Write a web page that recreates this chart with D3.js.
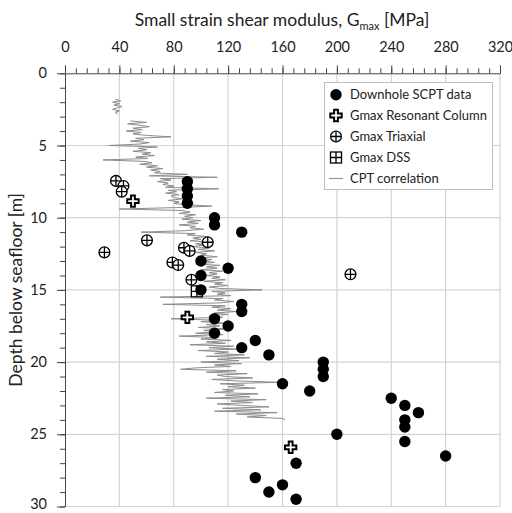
<!DOCTYPE html>
<html>
<head>
<meta charset="utf-8">
<script src="https://cdn.jsdelivr.net/npm/d3@7"></script>
<style>
  html, body { margin: 0; padding: 0; background: #fff; }
  svg text { font-family: Lato, "Open Sans", sans-serif; fill: #222; }
</style>
</head>
<body>
<svg id="chart" width="512" height="513"></svg>
<script>
// Axis ticks
const xTicks = [0, 40, 80, 120, 160, 200, 240, 280, 320];
const yTicks = [0, 5, 10, 15, 20, 25, 30];

// Downhole seismic CPT measurements: depth [m], Gmax [MPa]
const scptDepth = [7.5, 8, 8.5, 9, 10, 10.5, 11, 13, 13.5, 14, 15, 16, 16.5, 17, 17.5, 18, 18.5, 19, 19.5,
  20, 20.5, 21, 21.5, 22, 22.5, 23, 23.5, 24, 24.5, 25, 25.5, 26.5, 27, 28, 28.5, 29, 29.5];
const scptGmax = [90, 90, 90, 90, 110, 110, 130, 100, 120, 100, 100, 130, 130, 110, 120, 110, 140, 130, 150,
  190, 190, 190, 160, 180, 240, 250, 260, 250, 250, 200, 250, 280, 170, 140, 160, 150, 170];

// Resonant column tests
const rcDepth = [8.85, 16.9, 25.9];
const rcGmax = [50, 90, 166];

// Triaxial tests
const txDepth = [7.45, 7.8, 8.2, 11.57, 11.7, 12.08, 12.3, 12.4, 13.1, 13.28, 14.3, 13.92];
const txGmax = [37.5, 43, 41.7, 60.3, 105, 87.5, 91.7, 29, 79, 83.3, 93, 210];

// Direct simple shear test
const dssDepth = [15.1];
const dssGmax = [97];

// CPT based correlation (null marks a gap in the profile)
const cptDepth = [
  1.8, 1.9, 2.0, 2.1, 2.2, 2.3, 2.4, 2.5, 2.6, 2.7, 2.8, 3.0,
  3.3, 3.4, 3.5, 3.6, 3.7, 3.8, 3.9,
  4.0, 4.1, 4.2, 4.3, 4.4, 4.5, 4.6, 4.7, 4.8, 4.9,
  5.0, 5.1, 5.2, 5.3, 5.4, 5.5, 5.6, 5.7, 5.8, 5.9,
  6.0, 6.1, 6.2, 6.3, 6.4, 6.5, 6.6, 6.7, 6.8, 6.9,
  7.0, 7.1, 7.2, 7.3, 7.4, 7.5, 7.6, 7.7, 7.8, 7.9,
  8.0, 8.1, 8.2, 8.3, 8.4, 8.5, 8.6, 8.7, 8.8, 8.9,
  9.0, 9.1, 9.2, 9.3, 9.4, 9.5, 9.6, 9.7, 9.8, 9.9,
  10.0, 10.1, 10.2, 10.3, 10.4, 10.5, 10.6, 10.7, 10.8, 10.9,
  11.0, 11.1, 11.2, 11.3, 11.4, 11.5, 11.6, 11.7, 11.8, 11.9,
  12.0, 12.1, 12.2, 12.3, 12.4, 12.5, 12.6, 12.7, 12.8, 12.9,
  13.0, 13.1, 13.2, 13.3, 13.4, 13.5, 13.6, 13.7, 13.8, 13.9,
  14.0, 14.1, 14.2, 14.3, 14.4, 14.5, 14.6, 14.7, 14.8, 14.9,
  15.0, 15.1, 15.2, 15.3, 15.4, 15.5, 15.6, 15.7, 15.8, 15.9,
  16.0, 16.1, 16.2, 16.3, 16.4, 16.5, 16.6, 16.7, 16.8, 16.9,
  17.0, 17.1, 17.2, 17.3, 17.4, 17.5, 17.6, 17.7, 17.8, 17.9,
  18.0, 18.1, 18.2, 18.3, 18.4, 18.5, 18.6, 18.7, 18.8, 18.9,
  19.0, 19.1, 19.2, 19.3, 19.4, 19.5, 19.6, 19.7, 19.8, 19.9,
  20.0, 20.1, 20.2, 20.3, 20.4, 20.5, 20.6, 20.7, 20.8, 20.9,
  21.0, 21.1, 21.2, 21.3, 21.4, 21.5, 21.6, 21.7, 21.8, 21.9,
  22.0, 22.1, 22.2, 22.3, 22.4, 22.5, 22.6, 22.7, 22.8, 22.9,
  23.0, 23.1, 23.2, 23.3, 23.4, 23.5, 23.6, 23.7, 23.8, 23.9,
  24.0];
const cptGmax = [
  37, 41, 35, 40, 36, 42, 38, 35, 40, 37, 39, null,
  48, 60, 46, 55, 62, 50, 57,
  45, 56, 50, 60, 78, 52, 58, 48, 62, 55,
  32, 68, 54, 60, 50, 63, 57, 66, 52, 61,
  28, 58, 64, 55, 68, 60, 72, 63, 70, 66,
  90, 62, 112, 70, 78, 68, 76, 72, 80, 74,
  113, 76, 82, 74, 84, 78, 80, 86, 76, 84,
  80, 88, 108, 82, 40, 86, 92, 84, 96, 88,
  94, 86, 100, 90, 98, 84, 96, 92, 102, 88,
  56, 96, 90, 104, 94, 100, 92, 108, 96, 102,
  94, 106, 98, 110, 96, 104, 100, 112, 98, 108,
  102, 110, 96, 114, 104, 112, 100, 116, 106, 112,
  104, 114, 108, 118, 102, 116, 110, 120, 106, 114,
  145, 108, 118, 112, 122, 70, 116, 110, 124, 114,
  72, 118, 108, 122, 112, 126, 110, 120, 106, 116,
  78, 112, 100, 118, 104, 114, 98, 120, 102, 110,
  96, 116, 84, 112, 100, 122, 104, 118, 92, 124,
  106, 126, 98, 120, 110, 132, 104, 136, 112, 128,
  100, 130, 110, 122, 96, 85, 126, 104, 134, 112,
  118, 138, 108, 126, 158, 114, 132, 120, 140, 116,
  124, 110, 142, 118, 136, 104, 148, 122, 138, 112,
  130, 150, 116, 144, 110, 156, 126, 148, 134, 160,
  162];

const legendLabels = ["Downhole SCPT data", "Gmax Resonant Column", "Gmax Triaxial", "Gmax DSS", "CPT correlation"];

const svg = d3.select("#chart");
const x = d3.scaleLinear().domain([0, 320]).range([65, 500]);
const y = d3.scaleLinear().domain([0, 30]).range([73.3, 506.5]);

// Grid
const grid = svg.append("g").attr("stroke", "#d4d4d4").attr("stroke-width", 1.2);
grid.selectAll("line.v").data(xTicks.slice(1)).join("line")
  .attr("x1", d => x(d)).attr("x2", d => x(d)).attr("y1", y(0)).attr("y2", y(30));
grid.selectAll("line.h").data(yTicks.slice(1)).join("line")
  .attr("x1", x(0)).attr("x2", x(320)).attr("y1", d => y(d)).attr("y2", d => y(d));

// Top axis: minor then major ticks
svg.append("g").attr("transform", `translate(0,${y(0)})`)
  .call(d3.axisTop(x).tickValues(d3.range(0, 321, 8)).tickSize(5).tickFormat(""))
  .call(g => g.select(".domain").remove())
  .call(g => g.selectAll("line").attr("stroke", "#444"));
svg.append("g").attr("transform", `translate(0,${y(0)})`)
  .call(d3.axisTop(x).tickValues(xTicks).tickSize(8).tickSizeOuter(0).tickPadding(13))
  .call(g => g.select(".domain").attr("stroke", "#444"))
  .call(g => g.selectAll("line").attr("stroke", "#444"))
  .call(g => g.selectAll("text").attr("font-size", 14.5).attr("fill", "#222"));

// Left axis: minor then major ticks
svg.append("g").attr("transform", `translate(${x(0)},0)`)
  .call(d3.axisLeft(y).tickValues(d3.range(0, 31, 1)).tickSize(5).tickFormat(""))
  .call(g => g.select(".domain").remove())
  .call(g => g.selectAll("line").attr("stroke", "#444"));
svg.append("g").attr("transform", `translate(${x(0)},0)`)
  .call(d3.axisLeft(y).tickValues(yTicks).tickSize(8).tickSizeOuter(0).tickPadding(10))
  .call(g => g.select(".domain").attr("stroke", "#444"))
  .call(g => g.selectAll("line").attr("stroke", "#444"))
  .call(g => g.selectAll("text").attr("font-size", 14.5).attr("fill", "#222"))
  // keep the bottom label inside the canvas
  .call(g => g.selectAll("text").filter(d => d === 30).attr("dy", "0.15em"));

// Axis titles
const title = svg.append("text").attr("x", 282).attr("y", 26).attr("text-anchor", "middle")
  .attr("font-size", 17.5);
title.append("tspan").text("Small strain shear modulus, G");
title.append("tspan").attr("font-size", 11).attr("dy", 4).text("max");
title.append("tspan").attr("dy", -4).text(" [MPa]");

svg.append("text").attr("transform", `translate(22,${(y(0) + y(30)) / 2}) rotate(-90)`)
  .attr("text-anchor", "middle").attr("font-size", 17.5).text("Depth below seafloor [m]");

// CPT correlation trace
const cptData = cptDepth.map((d, i) => ({ depth: d, g: cptGmax[i] }));
svg.append("path").datum(cptData)
  .attr("fill", "none").attr("stroke", "#8c8c8c").attr("stroke-width", 1)
  .attr("d", d3.line().defined(d => d.g !== null).x(d => x(d.g)).y(d => y(d.depth)));

// Marker drawing helpers
function drawCircle(g, cx, cy) {
  g.append("circle").attr("cx", cx).attr("cy", cy).attr("r", 5.7).attr("fill", "#000");
}
function drawTriaxial(g, cx, cy) {
  g.append("circle").attr("cx", cx).attr("cy", cy).attr("r", 5.4).attr("fill", "#fff")
    .attr("stroke", "#000").attr("stroke-width", 1.3);
  g.append("path").attr("d", `M${cx - 5.4},${cy}H${cx + 5.4}M${cx},${cy - 5.4}V${cy + 5.4}`)
    .attr("stroke", "#000").attr("stroke-width", 1.3);
}
function drawRC(g, cx, cy) {
  g.append("path").attr("transform", `translate(${cx},${cy})`)
    .attr("d", d3.symbol().type(d3.symbolCross).size(72)())
    .attr("fill", "#fff").attr("stroke", "#000").attr("stroke-width", 2);
}
function drawDSS(g, cx, cy) {
  g.append("rect").attr("x", cx - 5.5).attr("y", cy - 5.5).attr("width", 11).attr("height", 11)
    .attr("fill", "#fff").attr("stroke", "#000").attr("stroke-width", 1.3);
  g.append("path").attr("d", `M${cx - 5.5},${cy}H${cx + 5.5}M${cx},${cy - 5.5}V${cy + 5.5}`)
    .attr("stroke", "#000").attr("stroke-width", 1.3);
}

const marks = svg.append("g");
dssDepth.forEach((d, i) => drawDSS(marks, x(dssGmax[i]), y(d)));
txDepth.forEach((d, i) => drawTriaxial(marks, x(txGmax[i]), y(d)));
rcDepth.forEach((d, i) => drawRC(marks, x(rcGmax[i]), y(d)));
scptDepth.forEach((d, i) => drawCircle(marks, x(scptGmax[i]), y(d)));

// Legend
const lg = svg.append("g");
lg.append("rect").attr("x", 324.5).attr("y", 82.5).attr("width", 168).attr("height", 107)
  .attr("fill", "#fff").attr("stroke", "#bdbdbd").attr("stroke-width", 1);
const rowY = [94.7, 115.5, 136.5, 157.5, 178.5];
const markerX = 336;
drawCircle(lg, markerX, rowY[0]);
drawRC(lg, markerX, rowY[1]);
drawTriaxial(lg, markerX, rowY[2]);
drawDSS(lg, markerX, rowY[3]);
lg.append("line").attr("x1", markerX - 7).attr("x2", markerX + 7).attr("y1", rowY[4]).attr("y2", rowY[4])
  .attr("stroke", "#8c8c8c").attr("stroke-width", 1);
lg.selectAll("text.lbl").data(legendLabels).join("text")
  .attr("x", 350).attr("y", (d, i) => rowY[i]).attr("dy", "0.35em")
  .attr("font-size", 13).text(d => d);
</script>
</body>
</html>
